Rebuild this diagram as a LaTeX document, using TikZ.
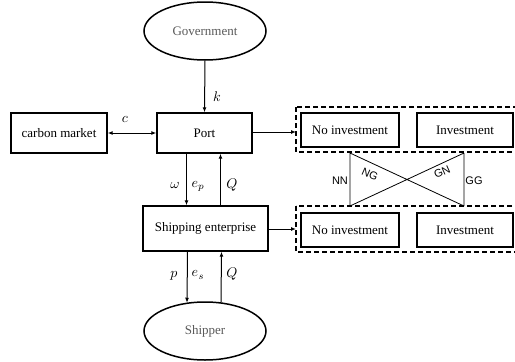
\documentclass[tikz,border=0pt]{standalone}
\usepackage{fontspec}
\setmainfont{Liberation Serif}
\newfontfamily\arialf{Liberation Sans}
\usetikzlibrary{arrows.meta,shapes.geometric}
\begin{document}
\begin{tikzpicture}[x=1pt,y=-1pt,
  font=\fontsize{13}{15}\selectfont,
  box/.style={draw,line width=1.4pt,minimum height=34pt,inner sep=0pt},
  ell/.style={draw,ellipse,line width=1.5pt,minimum width=122pt,minimum height=58pt,text=black!65},
  dbox/.style={draw,dashed,line width=1.4pt,dash pattern=on 5pt off 3pt},
  arr/.style={line width=1pt,-{Latex[length=5pt,width=4pt]}},
  darr/.style={line width=1pt,{Latex[length=5pt,width=4pt]}-{Latex[length=5pt,width=4pt]}},
  lbl/.style={inner sep=0pt,font=\normalsize,scale=1.4},
  sl/.style={inner sep=0pt,font=\arialf\fontsize{11}{13}\selectfont},
  thin line/.style={line width=0.8pt}]
\useasboundingbox (0,0) rectangle (515,362);

\node[ell] (gov) at (205,31) {Government};
\node[box,minimum width=95pt,minimum height=40pt] (port) at (204.5,133) {Port};
\node[box,minimum width=96pt,minimum height=40pt] (cm) at (59,133) {carbon market};
\node[box,minimum width=125pt,minimum height=45pt] (ship) at (205.5,228.5) {Shipping enterprise};
\node[ell] (shipper) at (205,331) {Shipper};

\draw[dbox] (296,107) rectangle (522,152);
\draw[dbox] (296,206) rectangle (522,252);
\coordinate (dtop) at (296,132);
\coordinate (dbot) at (296,229);

\node[box,minimum width=98pt] (no1) at (350,130) {No investment};
\node[box,minimum width=96pt] (inv1) at (465,130) {Investment};
\node[box,minimum width=98pt] (no2) at (350,230) {No investment};
\node[box,minimum width=96pt] (inv2) at (465,230) {Investment};

% arrows
\draw[arr] (gov.south) -- (port.north);
\draw[darr] (cm.east) -- (port.west);
\draw[arr] ([xshift=-18pt]port.south) -- ([xshift=-18pt]port.south |- ship.north);
\draw[arr] ([xshift=16pt]port.south |- ship.north) -- ([xshift=16pt]port.south);
\draw[arr] ([xshift=-18pt]ship.south) -- ([xshift=-18pt,yshift=-1.5pt]shipper.north);
\draw[arr] ([xshift=16pt,yshift=-1.2pt]shipper.north) -- ([xshift=16pt]ship.south);
\draw[arr] (port.east |- dtop) -- (dtop);
\draw[arr] (ship.east |- dbot) -- (dbot);

% labels
\node[lbl] (lk) at (217,97) {$k$};
\node[lbl] (lc) at (125,119) {$c$};
\node[lbl] (lw) at (175,185) {$\omega$};
\node[lbl] (lep) at (198,186) {$e_p$};
\node[lbl] (lQ1) at (232,185) {$Q$};
\node[lbl] (lp) at (174,276) {$p$};
\node[lbl] (les) at (198,275) {$e_s$};
\node[lbl] (lQ2) at (232,274) {$Q$};

% X shape
\coordinate (xa) at (350,153);
\coordinate (xb) at (464,153);
\coordinate (xc) at (350,206);
\coordinate (xd) at (464,206);
\draw[thin line] (xa) -- (xc) (xb) -- (xd) (xa) -- (xd) (xc) -- (xb);
\node[sl] (nn) at (340,181) {NN};
\node[sl] (gg) at (474,181) {GG};
\node[sl,rotate=-24] (ng) at (370,174) {NG};
\node[sl,rotate=24] (gn) at (442,172) {GN};
\end{tikzpicture}
\end{document}
